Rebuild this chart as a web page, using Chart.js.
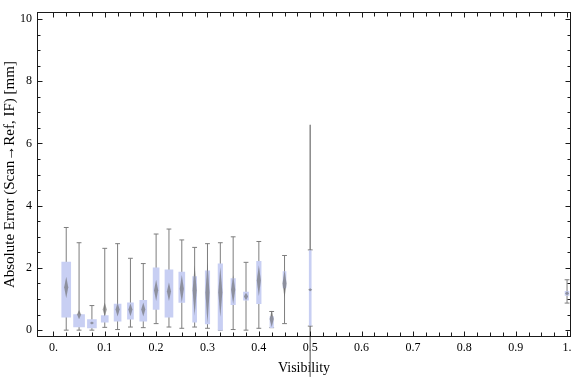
<!DOCTYPE html>
<html>
<head>
<meta charset="utf-8">
<script src="https://cdn.jsdelivr.net/npm/chart.js@4.4.3/dist/chart.umd.min.js"></script>
<style>
  html, body { margin: 0; padding: 0; background: #fff; }
  canvas { display: block; }
</style>
</head>
<body>
<canvas id="chart" width="576" height="377"></canvas>
<script>
(function () {
  'use strict';

  // box positions on the visibility axis
  var X_POS = [0.025, 0.05, 0.075, 0.1, 0.125, 0.15, 0.175, 0.2, 0.225, 0.25,
               0.275, 0.3, 0.325, 0.35, 0.375, 0.4, 0.425, 0.45, 0.5, 1.0];

  // box-whisker values [mm]
  var WHISK_LO = [0, 0, 0, 0.09, 0.02, 0.1, 0.08, 0.21, 0.1, 0.06,
                  0.1, 0.06, 0, 0.02, 0, 0.06, 0.08, 0.21, 0.13, 0.87];
  var Q1       = [0.42, 0.1, 0.07, 0.26, 0.29, 0.35, 0.29, 0.67, 0.42, 0.89,
                  0.26, 0.2, 0, 0.82, 0.96, 0.85, 0.08, 1.36, 0.15, 1.12];
  var MEDIAN   = [1.38, 0.5, 0.23, 0.66, 0.66, 0.66, 0.66, 1.28, 1.24, 1.33,
                  1.28, 1.2, 1.22, 1.3, 1.08, 1.6, 0.36, 1.5, 1.3, 1.18];
  var Q3       = [2.19, 0.5, 0.34, 0.47, 0.84, 0.88, 0.96, 2.0, 1.94, 1.87,
                  1.72, 1.91, 2.13, 1.66, 1.22, 2.21, 0.44, 1.88, 2.56, 1.25];
  var WHISK_HI = [3.3, 2.81, 0.79, 2.63, 2.78, 2.31, 2.14, 3.09, 3.25, 2.9,
                  2.66, 2.78, 2.81, 3.0, 2.18, 2.85, 0.6, 2.4, 2.58, 1.62];
  // median diamond (notch) extent
  var NOTCH_LO = [1.03, 0.35, 0.18, 0.44, 0.44, 0.45, 0.44, 0.94, 0.94, 0.89,
                  0.47, 0.21, 0.42, 0.84, 0.96, 1.1, 0.1, 1.04, 1.25, 1.12];
  var NOTCH_HI = [1.72, 0.65, 0.28, 0.89, 0.87, 0.86, 0.89, 1.62, 1.53, 1.77,
                  2.09, 2.19, 2.03, 1.77, 1.2, 2.09, 0.63, 1.93, 1.35, 1.25];

  // long spike at visibility 0.5 (runs down off the plot)
  var SPIKE_X = 0.5;
  var SPIKE_TOP = 6.6;
  var SPIKE_BOTTOM = -1.5;

  var X_TICKS = [0, 0.1, 0.2, 0.3, 0.4, 0.5, 0.6, 0.7, 0.8, 0.9, 1.0];
  var X_TICK_LABELS = ['0.', '0.1', '0.2', '0.3', '0.4', '0.5', '0.6', '0.7', '0.8', '0.9', '1.'];
  var Y_TICKS = [0, 2, 4, 6, 8, 10];
  var Y_TICK_LABELS = ['0', '2', '4', '6', '8', '10'];

  var X_TITLE = 'Visibility';
  var Y_TITLE = 'Absolute Error (Scan\u2192Ref, IF) [mm]';

  // styling
  var BOX_PX = [9, 11, 9, 7, 7, 6, 7, 6, 8, 6, 4, 4.5, 4.5, 4.5, 5, 4.5, 3.5, 3, 2, 4];
  var DIAMOND_HALF = 0.004;
  var BOX_FILL = '#c8cff3';
  var WHISKER = '#7d7d7d';
  var DIAMOND = 'rgba(105,105,105,0.62)';
  var FONT = 'Liberation Serif, Times New Roman, serif';

  var datasets = [];

  // median diamonds on top
  X_POS.forEach(function (x, i) {
    datasets.push({
      type: 'line',
      order: 0,
      data: [
        { x: x, y: NOTCH_LO[i] },
        { x: x + DIAMOND_HALF, y: MEDIAN[i] },
        { x: x, y: NOTCH_HI[i] },
        { x: x - DIAMOND_HALF, y: MEDIAN[i] },
        { x: x, y: NOTCH_LO[i] }
      ],
      fill: 'shape',
      backgroundColor: DIAMOND,
      borderColor: 'rgba(0,0,0,0)',
      borderWidth: 0.5,
      pointRadius: 0,
      tension: 0
    });
  });

  // interquartile boxes
  X_POS.forEach(function (x, i) {
    datasets.push({
      type: 'bar',
      order: 1,
      grouped: false,
      data: [{ x: x, y: [Q1[i], Q3[i]] }],
      barThickness: BOX_PX[i],
      backgroundColor: BOX_FILL,
      borderWidth: 0
    });
  });

  // whiskers with end caps
  var whiskerPts = [];
  X_POS.forEach(function (x, i) {
    whiskerPts.push({ x: x, y: WHISK_LO[i] });
    whiskerPts.push({ x: x, y: WHISK_HI[i] });
    whiskerPts.push({ x: x, y: null });
  });
  datasets.push({
    type: 'line',
    order: 2,
    data: whiskerPts,
    spanGaps: false,
    borderColor: WHISKER,
    borderWidth: 1,
    pointStyle: 'line',
    pointRadius: 2.4,
    pointBorderColor: WHISKER,
    pointBorderWidth: 1,
    fill: false
  });

  datasets.push({
    type: 'line',
    order: 3,
    clip: false,
    data: [{ x: SPIKE_X, y: SPIKE_TOP }, { x: SPIKE_X, y: SPIKE_BOTTOM }],
    borderColor: 'rgba(125,125,125,0.7)',
    borderWidth: 1,
    pointRadius: 0,
    fill: false
  });

  // Mathematica-style frame with inward ticks on all four sides
  var frameTicks = {
    id: 'frameTicks',
    afterDraw: function (chart) {
      var ca = chart.chartArea;
      var ctx = chart.ctx;
      var xs = chart.scales.x;
      var ys = chart.scales.y;
      var l = Math.round(ca.left) + 0.5;
      var r = Math.round(ca.right) - 0.5;
      var t = Math.round(ca.top) + 0.5;
      var b = Math.round(ca.bottom) - 0.5;
      ctx.save();
      ctx.strokeStyle = '#1a1a1a';
      ctx.lineWidth = 1;
      ctx.strokeRect(l, t, r - l, b - t);
      ctx.beginPath();
      var i, px, len;
      for (i = 0; i <= 40; i++) {
        px = Math.round(xs.getPixelForValue(i * 0.025)) + 0.5;
        len = i % 4 === 0 ? 5 : 4;
        ctx.moveTo(px, b); ctx.lineTo(px, b - len);
        ctx.moveTo(px, t); ctx.lineTo(px, t + len);
      }
      for (i = 0; i <= 20; i++) {
        px = Math.round(ys.getPixelForValue(i * 0.5)) + 0.5;
        len = i % 4 === 0 ? 5 : 3;
        ctx.moveTo(l, px); ctx.lineTo(l + len, px);
        ctx.moveTo(r, px); ctx.lineTo(r - len, px);
      }
      ctx.stroke();
      ctx.restore();
    }
  };

  new Chart(document.getElementById('chart'), {
    type: 'bar',
    data: { datasets: datasets },
    plugins: [frameTicks],
    options: {
      responsive: false,
      animation: false,
      layout: { padding: { top: 4, right: 1, left: 0, bottom: 0 } },
      plugins: {
        legend: { display: false },
        tooltip: { enabled: false }
      },
      scales: {
        x: {
          type: 'linear',
          min: -0.0319,
          max: 1.0077,
          offset: false,
          grid: { display: false, drawTicks: false },
          border: { display: false },
          afterBuildTicks: function (s) {
            s.ticks = X_TICKS.map(function (v) { return { value: v }; });
          },
          afterFit: function (s) { s.height = 40; },
          ticks: {
            autoSkip: false,
            maxRotation: 0,
            padding: 4,
            color: '#000',
            font: { family: FONT, size: 12 },
            callback: function (v, idx) { return X_TICK_LABELS[idx]; }
          },
          title: {
            display: true,
            text: X_TITLE,
            color: '#000',
            font: { family: FONT, size: 14 },
            padding: { top: 0, bottom: 0 }
          }
        },
        y: {
          type: 'linear',
          min: -0.22,
          max: 10.22,
          grid: { display: false, drawTicks: false },
          border: { display: false },
          afterBuildTicks: function (s) {
            s.ticks = Y_TICKS.map(function (v) { return { value: v }; });
          },
          afterFit: function (s) { s.width = 37; },
          ticks: {
            autoSkip: false,
            padding: 5,
            color: '#000',
            font: { family: FONT, size: 12 },
            callback: function (v, idx) { return Y_TICK_LABELS[idx]; }
          },
          title: {
            display: true,
            text: Y_TITLE,
            color: '#000',
            font: { family: FONT, size: 15 },
            padding: { top: 1, bottom: 0 }
          }
        }
      }
    }
  });
})();
</script>
</body>
</html>
